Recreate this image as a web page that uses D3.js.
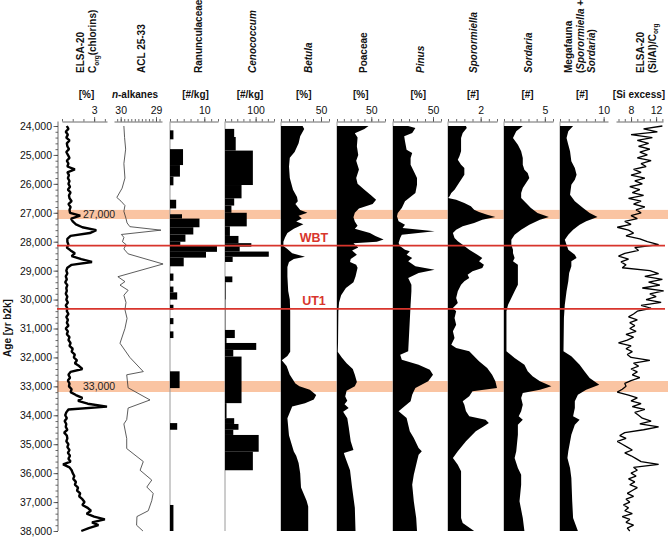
<!DOCTYPE html>
<html>
<head>
<meta charset="utf-8">
<script src="https://cdn.jsdelivr.net/npm/d3@7"></script>
<style>
  body { margin: 0; background: #fff; }
  svg { display: block; }
</style>
</head>
<body>
<div id="chart"></div>
<script>
// ---- data (age in yr b2k) ----
const corgAge = d3.range(24000, 38001, 100);
const corgPct = [
  0.45,0.6,0.35,0.55,0.4,0.7,0.45,0.5,0.65,0.4,
  0.55,0.7,0.45,0.6,0.5,1.2,0.5,0.65,0.55,0.7,
  0.6,0.75,0.55,0.8,0.65,0.7,0.9,0.6,0.8,0.7,
  0.75,1.7,0.85,1.0,1.3,1.9,3.2,2.6,0.8,0.5,
  0.5,0.6,0.45,0.8,1.2,0.9,1.8,2.8,0.9,0.5,
  0.4,0.5,0.35,0.45,0.3,0.5,0.4,0.45,0.35,0.5,
  0.4,0.55,0.35,0.5,0.45,0.6,0.4,0.55,0.45,0.6,
  0.35,0.55,0.45,0.7,0.6,0.8,0.7,1.0,0.9,1.2,
  1.1,1.4,1.2,1.6,1.9,0.8,0.6,0.75,0.55,0.7,
  0.65,0.9,0.8,1.3,1.9,1.5,2.4,4.2,0.6,0.4,
  0.3,0.45,0.25,0.4,0.35,0.5,0.2,0.45,0.5,0.4,
  0.6,0.5,0.7,0.55,0.75,0.6,0.8,0.1,0.7,0.9,
  1.0,1.15,1.05,1.3,1.2,1.5,1.4,1.7,1.6,1.9,
  2.1,1.9,2.4,2.7,2.3,3.0,4.0,2.8,3.4,2.5,
  1.8
];

const acl = [[24000,29.91],[24400,29.89],[24800,29.86],[25300,29.91],[25800,29.88],[26150,29.96],
  [26470,30.11],[26600,29.99],[26750,29.88],[26950,29.91],[27200,29.85],[27350,29.82],[27480,29.74],
  [27600,28.86],[27750,29.98],[27850,29.91],[28000,29.95],[28100,29.85],[28250,29.91],[28420,29.79],
  [28770,28.80],[29210,30.08],[29380,29.88],[29500,30.02],[29680,29.79],[29850,29.91],[30100,29.85],
  [30350,29.88],[30650,29.82],[31000,29.88],[31510,30.02],[32000,29.74],[32490,29.36],[32600,29.83],
  [33050,29.79],[33470,29.17],[33750,29.79],[34150,29.83],[34300,29.91],[34800,29.83],[35150,29.83],
  [35600,29.36],[35900,29.45],[36240,29.12],[36480,29.26],[36700,29.08],[36950,29.12],[37300,29.22],
  [37500,29.54],[37800,29.55],[38000,29.37]];

// bins: [top age, count]
const ranunculaceae = [[24000,0],[24150,1],[24460,0],[24800,3.8],[25350,2.9],[25750,1],[26050,0],
  [26550,1.8],[26850,0],[27050,3.5],[27200,8.6],[27500,6.8],[27750,4.5],[28000,3],[28150,13.7],
  [28350,10.5],[28550,4],[28850,0],[29100,1],[29350,0],[29550,1],[29750,2.1],[30000,0],[30180,1],
  [30350,0],[30640,1],[30850,0],[31100,1],[31330,0],[32480,2.8],[33060,0],[34270,2.1],[34500,0],
  [37100,1],[38000,0]];

const cenococcum = [[24000,0],[24100,30],[24380,35],[24850,91],[26040,54],[26500,30],[26750,21],
  [27000,71],[27470,16],[27800,44],[28050,86],[28170,48],[28340,143],[28520,25],[28700,0],
  [29200,24],[29400,2],[30000,1],[31050,32],[31330,5],[31500,102],[31740,27],[31970,54],[33580,5],
  [34100,30],[34300,44],[34500,27],[34680,110],[35260,91],[35900,0],[38000,0]];

const betula = [[24000,27],[24100,29],[24350,24],[24600,22],[24900,17],[25100,11],[25400,10],
  [25800,11],[26200,15],[26450,20],[26600,21],[26700,18],[26900,24],[27000,33],[27100,22],
  [27200,26],[27300,19],[27400,28],[27550,16],[27700,8],[27850,5],[28000,3],[28150,3],[28250,8],
  [28400,14],[28520,30],[28600,16],[28700,10],[28870,8],[29200,8],[29700,9],[30000,11],[30400,11.5],
  [31800,11.5],[31950,8],[32100,1],[32300,7],[32600,11],[32900,18],[33000,23],[33120,36],[33300,44],
  [33450,41],[33580,30],[33700,14],[34100,8],[34700,10],[35250,16],[35400,19],[35650,22],[36000,24],
  [36500,25],[36950,32],[37150,34],[38000,34]];

const poaceae = [[24000,46],[24100,40],[24250,26],[24400,30],[24700,29],[25000,31],[25200,28],
  [25500,32],[25800,28],[26000,30],[26200,40],[26400,50],[26550,57],[26700,52],[26850,32],[27000,26],
  [27150,24],[27300,26],[27450,30],[27550,26],[27700,48],[27800,56],[27920,68],[28000,58],[28050,24],
  [28200,31],[28300,22],[28450,29],[28600,20],[28700,19],[28800,28],[28900,30],[29200,27],[29400,24],
  [29600,13],[29850,6],[30100,3],[30400,2],[31500,1.5],[31800,1],[32000,7],[32200,14],[32400,23],
  [32600,26],[32850,29],[33000,26],[33150,14],[33350,12],[33500,15],[33620,11],[33750,17],[33880,9],
  [34100,15],[34400,17],[34900,20],[35200,24],[35300,10],[35450,12],[35900,19],[36500,22],[37200,26],
  [38000,27]];

const pinus = [[24000,19],[24069,28],[24242,24],[24357,14],[24530,15],[24818,17],[24933,24],
  [25106,22],[25337,22],[25567,26],[25798,30],[26028,30],[26316,28],[26604,15],[26835,11],[27008,6],
  [27123,5],[27296,7],[27411,15],[27526,12],[27641,52],[27757,11],[27872,9],[28045,7],[28160,9],
  [28275,15],[28333,21],[28448,17],[28563,24],[28678,19],[28851,28],[28966,52],[29082,32],[29255,19],
  [29485,23],[29715,23],[30176,22],[31790,19],[31905,9],[32078,11],[32251,32],[32424,46],[32596,50],
  [32827,44],[33057,28],[33172,26],[33287,24],[33518,22],[33864,7],[34094,17],[34555,21],[34785,26],
  [35131,32],[35246,36],[35361,32],[35592,30],[36053,26],[36399,24],[36975,26],[37551,29],[38000,30]];

const sporormiella = [[24000,1.1],[24069,1.15],[24242,0.9],[24415,0.8],[24645,0.8],[24876,0.8],
  [25049,0.7],[25164,0.6],[25337,0.8],[25452,1.0],[25682,1.0],[25855,0.8],[26028,0.6],[26201,0.4],
  [26316,0.2],[26431,0.1],[26489,0],[26547,0.5],[26662,1.0],[26777,1.4],[26892,1.6],[26973,1.9],
  [27065,2.4],[27146,2.9],[27238,2.1],[27353,1.6],[27468,0.9],[27584,0.5],[27699,0.3],[27872,0.4],
  [27987,0.6],[28102,0.9],[28275,1.3],[28448,1.8],[28563,2.1],[28678,1.9],[28794,2.2],[28909,2.1],
  [29024,1.5],[29139,1.2],[29255,1.3],[29370,1.0],[29485,0.8],[29715,0.6],[29946,0.5],[30119,0.6],
  [30292,0.3],[30407,0.5],[30637,0.4],[30868,0.5],[31098,0.3],[31329,0.4],[31559,0.2],[31674,0.5],
  [31790,1.3],[32135,1.9],[32366,2.4],[32596,2.7],[32827,2.9],[33057,3.0],[33172,1.5],[33345,1.3],
  [33518,0.9],[33633,1.0],[33864,1.1],[34037,1.3],[34152,2.3],[34267,2.5],[34382,2.2],[34555,1.7],
  [34901,1.1],[35246,0.6],[35477,0.3],[35708,0.6],[35938,0.8],[36399,0.8],[37551,0.8],[37724,0.9],
  [38000,1.6]];

const sordaria = [[24000,2.3],[24184,1.5],[24415,1.1],[24645,1.7],[24876,2.1],[25106,2.3],[25337,2.3],
  [25510,2.5],[25625,2.9],[25798,3.1],[25970,2.7],[26143,2.3],[26316,2.1],[26489,2.1],[26662,2.7],
  [26835,3.3],[27008,4.1],[27146,5.5],[27238,4.4],[27411,3.1],[27584,2.1],[27757,1.3],[27929,0.9],
  [28102,0.9],[28275,1.1],[28390,1.1],[28563,1.3],[28678,1.1],[28794,1.7],[29024,1.7],[29255,1.7],
  [29485,1.7],[29715,1.3],[29946,0.9],[30176,0.5],[30407,0.3],[30637,0.3],[31790,0.3],[32020,1.3],
  [32251,2.5],[32481,2.9],[32654,3.5],[32827,4.4],[33000,5.8],[33115,4.4],[33230,2.3],[33403,2.1],
  [33633,2.3],[33864,2.1],[34037,1.8],[34152,2.3],[34325,1.7],[34670,1.7],[35246,1.5],[35477,1.3],
  [35823,1.7],[36053,2.1],[36399,2.1],[36975,1.9],[37551,2.3],[38000,2.5]];

const megafauna = [[24000,3.0],[24184,1.9],[24415,1.5],[24645,1.9],[24876,2.3],[25221,2.6],[25452,3.4],
  [25682,3.8],[25855,3.4],[26028,2.6],[26374,2.3],[26604,3.4],[26835,5.3],[27008,6.8],[27146,8.6],
  [27296,6.0],[27411,4.5],[27584,3.0],[27757,1.9],[27929,1.1],[28102,1.5],[28275,1.9],[28448,3.4],
  [28563,3.8],[28678,2.6],[28851,2.6],[29082,2.1],[29370,1.9],[29715,1.5],[30176,1.1],[30637,0.9],
  [31790,0.8],[31963,2.6],[32251,4.5],[32481,5.6],[32711,6.8],[32942,9.0],[33115,6.0],[33287,4.1],
  [33518,3.4],[33749,3.4],[34037,3.0],[34152,4.5],[34325,3.4],[34670,2.6],[35246,1.9],[35477,1.7],
  [35823,2.3],[36168,2.6],[36975,2.8],[37551,3.0],[38000,4.1]];

const siAge = d3.range(24000, 38001, 100);
const siExcess = [
  13.0,10.0,12.2,8.0,11.4,9.0,10.8,9.2,11.0,9.4,
  10.6,9.0,11.2,9.6,10.4,8.4,9.6,8.0,10.2,8.6,
  9.8,7.8,9.4,8.2,10.0,7.6,9.6,8.4,10.2,8.8,
  9.6,8.0,9.0,7.0,8.0,5.8,7.6,8.4,7.2,9.4,
  10.6,12.4,8.6,9.2,7.0,6.0,7.6,6.4,7.2,6.6,
  11.0,12.4,10.2,13.0,10.8,12.6,9.8,13.2,11.0,12.0,
  10.4,12.8,9.6,11.2,9.0,8.4,7.6,9.0,7.8,8.6,
  7.8,8.8,7.2,8.4,7.4,6.0,8.0,7.2,8.2,7.4,
  8.0,11.0,8.4,9.2,8.0,9.0,8.2,9.4,8.0,7.0,
  7.2,6.6,5.8,7.6,9.0,8.0,9.6,8.2,10.2,8.6,
  9.2,9.8,11.2,9.4,12.4,10.0,7.0,6.2,7.2,5.8,
  6.6,7.4,8.2,7.0,8.0,8.8,9.6,12.4,8.4,9.0,
  8.0,8.8,7.6,8.6,7.8,9.0,8.2,7.4,8.4,7.2,
  7.8,6.8,7.6,7.0,8.2,6.6,7.8,7.2,8.4,7.4,
  7.8
];

const yTicks = d3.range(24000, 38001, 1000);
const bands = [[26900, 27215, '27,000'], [32815, 33195, '33,000']];
const tephra = [[28135, 'WBT'], [30320, 'UT1']];

// ---- layout ----
const W = 668, H = 538;
const FONT = '"Liberation Sans", Arial, Helvetica, sans-serif';
const svg = d3.select('#chart').append('svg')
  .attr('width', W).attr('height', H)
  .attr('viewBox', `0 0 ${W} ${H}`)
  .attr('font-family', FONT);

const y = d3.scaleLinear().domain([24000, 38000]).range([126, 531]);
const axisY = 121.5, bottomY = 531;

const panels = [
  { key: 'corg', range: [62, 107], domain: [0, 4.2], minor: [0,1,2,3,4], major: [3], type: 'noise',
    title: [[{t:'ELSA-20'}], [{t:'C'},{t:'org',sub:1},{t:'(chlorins)',up:1}]], tx: [80, 92.5],
    unit: [{t:'[%]'}], ux: 86.5, base: false },
  { key: 'acl', range: [114, 162], domain: [30.19, 28.83], minor: d3.range(301, 288, -1).map(d => d / 10),
    major: [30, 29], type: 'line', title: [[{t:'ACL 25-33'}]], tx: [141.5],
    unit: [{t:'n',it:1},{t:'-alkanes'}], ux: 135, base: false },
  { key: 'ran', range: [170, 218], domain: [0, 14], minor: d3.range(0, 15, 2), major: [10], type: 'bins',
    title: [[{t:'Ranunculaceae'}]], tx: [198], unit: [{t:'[#/kg]'}], ux: 195.5, base: true },
  { key: 'ceno', range: [225, 274], domain: [0, 160], minor: d3.range(0, 161, 20), major: [100], type: 'bins',
    title: [[{t:'Cenococcum',it:1}]], tx: [252.3], unit: [{t:'[#/kg]'}], ux: 250, base: true },
  { key: 'bet', range: [281, 329], domain: [0, 60], minor: d3.range(0, 61, 10), major: [50], type: 'area',
    title: [[{t:'Betula',it:1}]], tx: [308.3], unit: [{t:'[%]'}], ux: 303.7, base: true },
  { key: 'poa', range: [337, 385], domain: [0, 70], minor: d3.range(0, 71, 10), major: [50], type: 'area',
    title: [[{t:'Poaceae'}]], tx: [363.3], unit: [{t:'[%]'}], ux: 360.8, base: true },
  { key: 'pin', range: [393, 441], domain: [0, 60], minor: d3.range(0, 61, 10), major: [50], type: 'area',
    title: [[{t:'Pinus',it:1}]], tx: [420.7], unit: [{t:'[%]'}], ux: 418.3, base: true },
  { key: 'spo', range: [448, 497], domain: [0, 3], minor: d3.range(0, 3.01, 0.5), major: [2], type: 'area',
    title: [[{t:'Sporormiella',it:1}]], tx: [473.3], unit: [{t:'[#]'}], ux: 473, base: true },
  { key: 'sor', range: [504, 553], domain: [0, 6], minor: d3.range(0, 7, 1), major: [5], type: 'area',
    title: [[{t:'Sordaria',it:1}]], tx: [528.3], unit: [{t:'[#]'}], ux: 527.5, base: true },
  { key: 'meg', range: [560, 608], domain: [0, 11], minor: d3.range(0, 11, 2), major: [10], type: 'area',
    title: [[{t:'Megafauna'}], [{t:'('},{t:'Sporormiella',it:1},{t:' +'}], [{t:'Sordaria',it:1},{t:')'}]],
    tx: [568.3, 580, 591.7], unit: [{t:'[#]'}], ux: 582, base: true },
  { key: 'si', range: [616, 663], domain: [5.6, 13.1], minor: d3.range(6, 14, 1), major: [8, 12], type: 'noise',
    title: [[{t:'ELSA-20'}], [{t:'(Si/Al)/C'},{t:'org',sub:1}]], tx: [640, 652],
    unit: [{t:'[Si excess]'}], ux: 639, base: false }
];

const series = {
  corg: corgAge.map((a, i) => [a, corgPct[i]]),
  acl: acl,
  ran: ranunculaceae,
  ceno: cenococcum,
  bet: betula, poa: poaceae, pin: pinus,
  spo: sporormiella, sor: sordaria, meg: megafauna,
  si: siAge.map((a, i) => [a, siExcess[i]])
};

// ---- bands (behind data) ----
const bandG = svg.append('g');
bandG.selectAll('rect').data(bands).join('rect')
  .attr('x', 57).attr('width', W - 57)
  .attr('y', d => y(d[0])).attr('height', d => y(d[1]) - y(d[0]))
  .attr('fill', '#fac4a2');

// ---- panels ----
function segText(sel, segs, size) {
  segs.forEach(s => {
    const ts = sel.append('tspan').text(s.t);
    if (s.it) ts.attr('font-style', 'italic');
    if (s.sub) ts.attr('font-size', size * 0.65).attr('dy', size * 0.28);
    if (s.up) ts.attr('dy', -size * 0.28);
  });
}

panels.forEach(p => {
  const x = d3.scaleLinear().domain(p.domain).range(p.range);
  const g = svg.append('g');
  const data = series[p.key];

  if (p.base) {
    g.append('line').attr('x1', p.range[0]).attr('x2', p.range[0])
      .attr('y1', axisY).attr('y2', bottomY).attr('stroke', '#9a9a9a').attr('stroke-width', 1);
  }

  if (p.type === 'area') {
    g.append('path').datum(data)
      .attr('d', d3.area().y(d => y(d[0])).x0(x(0)).x1(d => x(d[1])))
      .attr('fill', '#000');
  } else if (p.type === 'bins') {
    const bins = data.slice(0, -1).map((d, i) => [d[0], data[i + 1][0], d[1]]).filter(d => d[2] > 0);
    g.selectAll('rect').data(bins).join('rect')
      .attr('x', x(0)).attr('width', d => x(d[2]) - x(0))
      .attr('y', d => y(d[0])).attr('height', d => y(d[1]) - y(d[0]))
      .attr('fill', '#000');
  } else if (p.type === 'line') {
    g.append('path').datum(data)
      .attr('d', d3.line().y(d => y(d[0])).x(d => x(d[1])))
      .attr('fill', 'none').attr('stroke', '#333').attr('stroke-width', 0.8);
  } else {
    g.append('path').datum(data)
      .attr('d', d3.line().y(d => y(d[0])).x(d => x(d[1])))
      .attr('fill', 'none').attr('stroke', '#000')
      .attr('stroke-width', p.key === 'corg' ? 2.4 : 1.3).attr('stroke-linejoin', 'bevel');
  }

  // top axis: minor ticks, then labelled ticks
  const ax = svg.append('g').attr('transform', `translate(0,${axisY})`);
  ax.call(d3.axisTop(x).tickValues(p.minor).tickFormat('').tickSize(2.5).tickSizeOuter(0));
  ax.append('g').call(d3.axisTop(x).tickValues(p.major).tickFormat(d => String(d)).tickSize(4.5).tickSizeOuter(0))
    .call(a => a.select('.domain').remove());
  ax.selectAll('path,line').attr('stroke', '#444').attr('stroke-width', 0.8);
  ax.selectAll('text').attr('font-family', FONT).attr('font-size', 10.5).attr('fill', '#111').attr('dy', 0);

  // rotated title
  p.title.forEach((line, i) => {
    const fs = 10;
    const t = svg.append('text')
      .attr('transform', `translate(${p.tx[i] + fs * 0.36},73) rotate(-90)`)
      .attr('font-size', fs).attr('font-weight', 'bold').attr('fill', '#111');
    segText(t, line, fs);
  });

  // unit line
  const u = svg.append('text').attr('x', p.ux).attr('y', 97.5)
    .attr('text-anchor', 'middle').attr('font-size', 10).attr('font-weight', 'bold').attr('fill', '#111');
  segText(u, p.unit, 10);
});

// ---- y axis ----
const yAx = svg.append('g').attr('transform', 'translate(58,0)');
yAx.call(d3.axisLeft(y).tickValues(d3.range(24000, 38001, 200)).tickFormat('').tickSize(2.5).tickSizeOuter(0));
yAx.append('g').call(d3.axisLeft(y).tickValues(yTicks).tickFormat(d3.format(',')).tickSize(4.5).tickSizeOuter(0))
  .call(a => a.select('.domain').remove());
yAx.select('.domain').attr('d', `M0,${axisY}V${bottomY}`);
yAx.selectAll('path,line').attr('stroke', '#444').attr('stroke-width', 0.8);
yAx.selectAll('text').attr('font-family', FONT).attr('font-size', 10.5).attr('fill', '#111').attr('x', -6);

svg.append('text')
  .attr('transform', 'translate(11,328) rotate(-90)')
  .attr('text-anchor', 'middle').attr('font-size', 10).attr('font-weight', 'bold').attr('fill', '#111')
  .text('Age [yr b2k]');

// ---- band labels ----
svg.selectAll('.bandlab').data(bands).join('text')
  .attr('class', 'bandlab')
  .attr('x', 83).attr('y', d => (y(d[0]) + y(d[1])) / 2 + 3.8)
  .attr('font-size', 10.5).attr('fill', '#222')
  .text(d => d[2]);

// ---- tephra lines ----
svg.selectAll('.teph').data(tephra).join('line')
  .attr('class', 'teph')
  .attr('x1', 57).attr('x2', 665)
  .attr('y1', d => y(d[0])).attr('y2', d => y(d[0]))
  .attr('stroke', '#d8352c').attr('stroke-width', 1.8);

svg.selectAll('.tephlab').data(tephra).join('text')
  .attr('class', 'tephlab')
  .attr('x', 314).attr('y', d => y(d[0]) - 4)
  .attr('text-anchor', 'middle')
  .attr('font-size', 12.5).attr('font-weight', 'bold').attr('fill', '#d8352c')
  .text(d => d[1]);
</script>
</body>
</html>
